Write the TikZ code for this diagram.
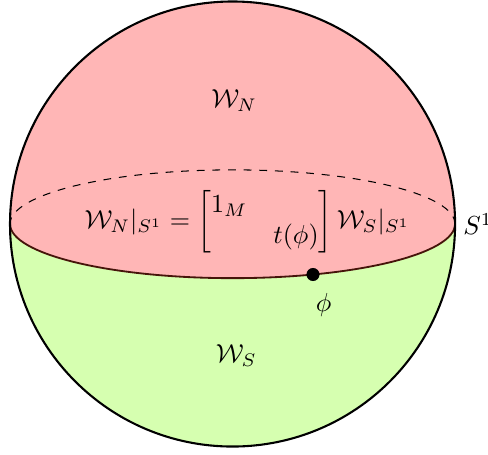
\documentclass[tikz,border=0pt]{standalone}
\usepackage{amsmath,amssymb}
\usepackage{xcolor}
\usepackage{tikz}
\usetikzlibrary{positioning,calc}
\definecolor{northpink}{RGB}{255,182,182}
\definecolor{southgreen}{RGB}{214,255,176}
\definecolor{seamline}{RGB}{70,20,10}
\tikzset{
  sphere/.style  = {draw=black, line width=0.8pt},
  backarc/.style = {draw=black, dashed, line width=0.4pt},
  frontarc/.style= {draw=seamline, line width=0.7pt},
  lbl/.style     = {inner sep=1pt},
  dotpt/.style   = {circle, fill=black, inner sep=0pt, minimum size=5pt},
}
\begin{document}
\begin{tikzpicture}
  \useasboundingbox (-3.135,-3.101) rectangle (3.444,3.020);
  % the two caps
  \fill[northpink] (-3,0) arc[start angle=180, end angle=0, radius=3]
    arc[start angle=0, end angle=-180, x radius=3, y radius=0.73] -- cycle;
  \fill[southgreen] (3,0) arc[start angle=0, end angle=-180, x radius=3, y radius=0.73]
    arc[start angle=180, end angle=360, radius=3] -- cycle;
  % equator
  \draw[backarc] (3,0) arc[start angle=0, end angle=180, x radius=3, y radius=0.73];
  \draw[frontarc] (3,0) arc[start angle=0, end angle=-180, x radius=3, y radius=0.73];
  \draw[sphere] (0,0) circle (3);
  % labels
  \node[lbl] (wn) at (0.02,1.67) {$\mathcal{W}_N$};
  \node[lbl] (ws) at (0.05,-1.78) {$\mathcal{W}_S$};
  \node[lbl] (eq) at (0.2,0.03) {$\mathcal{W}_N|_{S^1} = \begin{bmatrix} 1_M & \\ & t(\phi) \end{bmatrix} \mathcal{W}_S|_{S^1}$};
  \node[lbl] (s1) at (3.31,0) {$S^1$};
  \node[dotpt] (pt) at ({3*cos(-68.8)},{0.73*sin(-68.8)}) {};
  \node[lbl, below right=4pt and -2pt of pt] (phi) {$\phi$};
\end{tikzpicture}
\end{document}
